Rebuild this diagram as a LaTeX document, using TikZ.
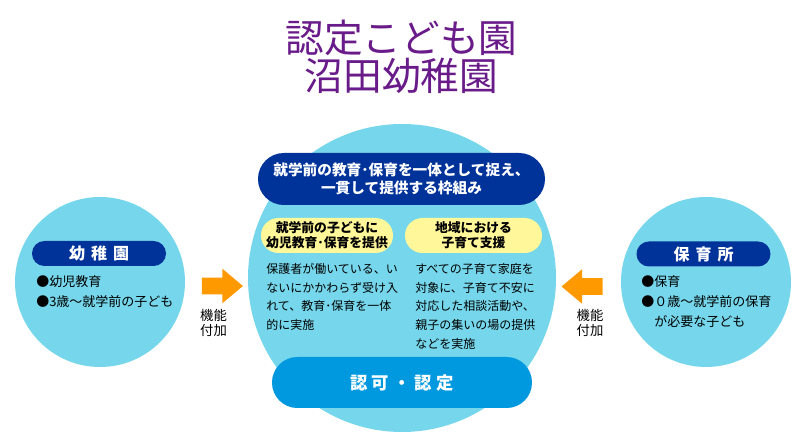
\documentclass[tikz,border=0pt]{standalone}
\usepackage{fontspec}
\setmainfont{Noto Sans CJK JP}
\usetikzlibrary{shapes.arrows}

\definecolor{circblue}{RGB}{118,215,236}
\definecolor{darkblue}{RGB}{0,51,153}
\definecolor{skyblue}{RGB}{0,153,224}
\definecolor{tagyellow}{RGB}{255,247,153}
\definecolor{arrorange}{RGB}{255,153,0}
\definecolor{titlepurple}{RGB}{106,27,138}

\begin{document}
\begin{tikzpicture}[x=0.75pt,y=-0.75pt,
    ball/.style={circle,fill=circblue,inner sep=0pt,minimum size=#1},
    pill/.style={rectangle,rounded corners=9.3pt,fill=darkblue,text=white,inner sep=0pt,
      minimum width=100.5pt,minimum height=18.75pt,font=\bfseries\fontsize{12}{14}\selectfont},
    frame/.style={rectangle,rounded corners=19.4pt,fill=darkblue,text=white,inner sep=0pt,align=center,
      minimum width=215.25pt,minimum height=39pt,font=\bfseries\fontsize{11}{13.5}\selectfont},
    tag/.style={rectangle,rounded corners=13pt,fill=tagyellow,inner sep=0pt,align=center,
      minimum height=26.25pt,font=\bfseries\fontsize{9.6}{11.25}\selectfont},
    ninka/.style={rectangle,rounded corners=19pt,fill=skyblue,text=white,inner sep=0pt,
      minimum width=195pt,minimum height=38.25pt,font=\bfseries\fontsize{13}{15}\selectfont},
    para/.style={anchor=north west,align=left,inner sep=0pt,font=\fontsize{9}{14}\selectfont},
    bullets/.style={anchor=north west,align=left,inner sep=0pt,font=\fontsize{9.75}{15}\selectfont},
    blockarrow/.style={single arrow,fill=arrorange,inner xsep=0pt,inner ysep=6pt,
      minimum height=30.75pt,single arrow head extend=6.75pt,single arrow tip angle=80},
    addlbl/.style={align=center,inner sep=0pt,font=\fontsize{10}{11.25}\selectfont}]
  \useasboundingbox[fill=white] (0,0) rectangle (803,441);

  % circles
  \node[ball=127.5pt] (youchien) at (100,282) {};
  \node[ball=127.5pt] (hoikusho) at (706,282) {};
  \node[ball=231pt] (kodomoen) at (402,278) {};

  % title
  \node[align=center,inner sep=0pt,text=titlepurple,font=\fontsize{29}{28.5}\selectfont]
    (title) at (401.5,57) {認定こども園\\沼田幼稚園};

  % centre
  \node[frame] (waku) at (401.5,179) {就学前の教育･保育を一体として捉え、\\一貫して提供する枠組み};
  \node[tag,minimum width=99pt] (kyouiku) at (327,235.5) {就学前の子どもに\\幼児教育･保育を提供};
  \node[tag,minimum width=102.75pt] (shien) at (473.5,235.5) {地域における\\子育て支援};
  \node[para] (kyouikutxt) at (266,263) {保護者が働いている、い\\ないにかかわらず受け入\\れて、教育･保育を一体\\的に実施};
  \node[para] (shientxt) at (415,263) {すべての子育て家庭を\\対象に、子育て不安に\\対応した相談活動や、\\親子の集いの場の提供\\などを実施};
  \node[ninka] (ninka) at (402,382.5) {認\hspace{3pt}可\hspace{3pt}・\hspace{3pt}認\hspace{3pt}定};

  % sides
  \node[pill] (youchienlbl) at (99,253.5) {幼\hspace{4.5pt}稚\hspace{4.5pt}園};
  \node[bullets] (youchientxt) at (36,275) {●幼児教育\\●3歳〜就学前の子ども};
  \node[pill] (hoikusholbl) at (703.5,254) {保\hspace{4.5pt}育\hspace{4.5pt}所};
  \node[bullets] (hoikushotxt) at (641,275) {●保育\\●０歳〜就学前の保育\\\phantom{●}が必要な子ども};

  % arrows
  \node[blockarrow] (addL) at (217.5,286) {};
  \node[blockarrow,shape border rotate=180] (addR) at (587,286.5) {};
  \node[addlbl] (addLlbl) at (213.5,322.5) {機能\\付加};
  \node[addlbl] (addRlbl) at (590,322.5) {機能\\付加};
\end{tikzpicture}
\end{document}
